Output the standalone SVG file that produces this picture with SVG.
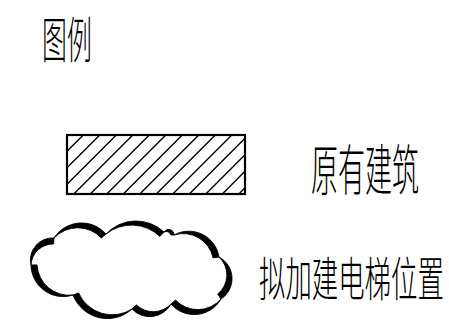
<svg xmlns="http://www.w3.org/2000/svg" width="449" height="334" viewBox="0 0 449 334">
<style>
.lbl{font-family:"Noto Sans CJK SC","Noto Sans CJK JP",sans-serif;font-weight:300;fill:#000;}
.frame{fill:none;stroke:#000;stroke-width:2.2;}
.hatch{fill:none;stroke:#000;stroke-width:1.4;}
.cloud{fill:#000;stroke:#000;stroke-width:0.9;stroke-linejoin:round;}
</style>
<rect width="449" height="334" fill="#fff"/>
<g id="legend-title">
<text class="lbl" font-size="47" transform="translate(42,57.5) scale(0.53,1.04)">图例</text>
</g>
<g id="legend-existing">
<g class="hatch">
<path d="M83.3 135L67 151.3M99.8 135L67 167.8M116.3 135L67 184.3M132.8 135L73.8 194M149.3 135L90.3 194M165.8 135L106.8 194M182.3 135L123.3 194M198.8 135L139.8 194M215.3 135L156.3 194M231.8 135L172.8 194M245 138.3L189.3 194M245 154.8L205.8 194M245 171.3L222.3 194M245 187.8L238.8 194"/>
</g>
<rect class="frame" x="67" y="135" width="178" height="59"/>
<text class="lbl" font-size="52" transform="translate(311,190) scale(0.52,1.05)">原有建筑</text>
</g>
<g id="legend-proposed">
<g class="cloud">
<path d="M31 265A22 22 0 0 1 54 238L53.6 244A22 22 0 0 0 31 265Z"/>
<path d="M54 238A32.7 32.7 0 0 1 106 234L101.5 238A32.7 32.7 0 0 0 54 238Z"/>
<path d="M106 234A41.1 41.1 0 0 1 164 232L159.9 236.4A41.1 41.1 0 0 0 106 234Z"/>
<path d="M164 232A5.4 5.4 0 0 1 174 235L171 235A5 5 0 0 0 164 232Z"/>
<path d="M174 235A30.6 30.6 0 0 1 219 257L213.1 257.9A30.6 30.6 0 0 0 174 235Z"/>
<path d="M219 257A24.4 24.4 0 0 1 221 299L217.7 294A24.4 24.4 0 0 0 219 257Z"/>
<path d="M221 299A30.8 30.8 0 0 1 171 304L175.5 300.1A30.8 30.8 0 0 0 221 299Z"/>
<path d="M171 304A24.3 24.3 0 0 1 132 309L136.4 304.9A24.3 24.3 0 0 0 171 304Z"/>
<path d="M132 309A36.7 36.7 0 0 1 73 295L78.6 292.9A36.7 36.7 0 0 0 132 309Z"/>
<path d="M73 295A32.1 32.1 0 0 1 31 265L37 264.9A32.1 32.1 0 0 0 73 295Z"/>
</g>
<text class="lbl" font-size="45" transform="translate(259,295.5) scale(0.587,1.04)">拟加建电梯位置</text>
</g>
</svg>
